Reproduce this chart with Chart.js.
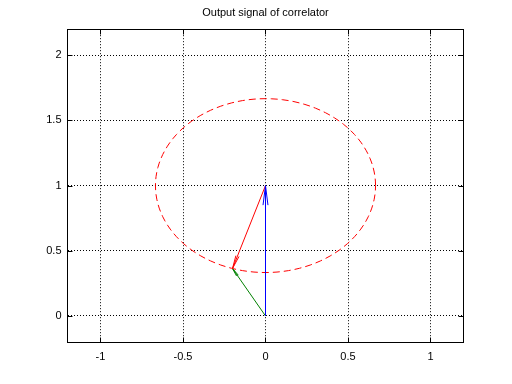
<!DOCTYPE html>
<html>
<head>
<meta charset="utf-8">
<script src="https://cdn.jsdelivr.net/npm/chart.js@4/dist/chart.umd.min.js"></script>
<style>
  html, body { margin: 0; padding: 0; background: #fff; }
  #wrap { width: 512px; height: 384px; }
</style>
</head>
<body>
<div id="wrap"><canvas id="c" width="512" height="384"></canvas></div>
<script>
// chart data
const titleText = "Output signal of correlator";
const xRange = [-1.2, 1.2];
const yRange = [-0.2, 2.2];
const xTicks = [-1, -0.5, 0, 0.5, 1];
const yTicks = [0, 0.5, 1, 1.5, 2];

// dashed circle: centre + radius
const circleCenter = [0, 1];
const circleRadius = 0.667;
const circleSteps = 120;

// three quiver arrows
const arrowColors = ["#0000ff", "#ff0000", "#008000"];
const arrowFromX = [0, 0, 0];
const arrowFromY = [0, 1, 0];
const arrowToX = [0, -0.2, -0.2];
const arrowToY = [1, 0.364, 0.364];
const headAlpha = 0.15;
const headBeta = 0.1;

const FONT = "'Liberation Sans', Arial, Helvetica, sans-serif";

function circlePoints() {
  const pts = [];
  for (let i = 0; i <= circleSteps; i++) {
    const t = (i / circleSteps) * 2 * Math.PI;
    pts.push({ x: circleCenter[0] + circleRadius * Math.cos(t), y: circleCenter[1] + circleRadius * Math.sin(t) });
  }
  return pts;
}

// same head shape as matlab quiver
function headPoints(i) {
  const x0 = arrowFromX[i], y0 = arrowFromY[i];
  const u = arrowToX[i] - x0, v = arrowToY[i] - y0;
  const tx = x0 + u, ty = y0 + v;
  return [
    { x: tx - headAlpha * (u + headBeta * v), y: ty - headAlpha * (v - headBeta * u) },
    { x: tx, y: ty },
    { x: tx - headAlpha * (u - headBeta * v), y: ty - headAlpha * (v + headBeta * u) },
  ];
}

const lineDefaults = { showLine: true, pointRadius: 0, borderWidth: 1, tension: 0, fill: false };

const datasets = [];
arrowColors.forEach((col, i) => {
  datasets.push(Object.assign({}, lineDefaults, {
    data: [{ x: arrowFromX[i], y: arrowFromY[i] }, { x: arrowToX[i], y: arrowToY[i] }],
    borderColor: col,
  }));
  datasets.push(Object.assign({}, lineDefaults, { data: headPoints(i), borderColor: col }));
});
datasets.push(Object.assign({}, lineDefaults, {
  data: circlePoints(),
  borderColor: "#ff0000",
  borderDash: [7, 4],
}));

// axes box + inward ticks, matlab style
const boxPlugin = {
  id: "box",
  afterDatasetsDraw(chart) {
    const { ctx, chartArea: a, scales } = chart;
    const L = Math.floor(a.left) + 0.5, R = Math.floor(a.right) + 0.5;
    const T = Math.round(a.top) + 0.5, B = Math.round(a.bottom) + 0.5;
    const len = 5;
    ctx.save();
    ctx.setLineDash([]);
    ctx.strokeStyle = "#000";
    ctx.lineWidth = 1;
    ctx.strokeRect(L, T, R - L, B - T);
    ctx.beginPath();
    xTicks.forEach((v) => {
      const px = Math.floor(scales.x.getPixelForValue(v)) + 0.5;
      ctx.moveTo(px, B); ctx.lineTo(px, B - len);
      ctx.moveTo(px, T); ctx.lineTo(px, T + len);
    });
    yTicks.forEach((v) => {
      const py = Math.round(scales.y.getPixelForValue(v)) + 0.5;
      ctx.moveTo(L, py); ctx.lineTo(L + len, py);
      ctx.moveTo(R, py); ctx.lineTo(R - len, py);
    });
    ctx.stroke();
    ctx.restore();
  },
};

const gridOpts = { color: "#000", lineWidth: 1, drawTicks: false };
const borderOpts = { display: false, dash: [1, 2] };
const tickFont = { family: FONT, size: 11 };

new Chart(document.getElementById("c"), {
  type: "scatter",
  data: { datasets },
  options: {
    responsive: false,
    animation: false,
    devicePixelRatio: 1,
    layout: { padding: { left: 0.5, right: 48.5, top: 0, bottom: 0 } },
    plugins: {
      legend: { display: false },
      tooltip: { enabled: false },
      title: {
        display: true,
        fullSize: false,
        text: titleText,
        color: "#000",
        font: { family: FONT, size: 11, weight: "normal" },
        padding: { top: 6, bottom: 10 },
      },
    },
    scales: {
      x: {
        type: "linear",
        min: xRange[0],
        max: xRange[1],
        grid: gridOpts,
        border: borderOpts,
        ticks: { color: "#000", font: tickFont, padding: 8, maxRotation: 0, callback: (v) => String(v) },
        afterBuildTicks: (s) => { s.ticks = xTicks.map((v) => ({ value: v })); },
        afterFit: (s) => { s.height = 42; },
      },
      y: {
        type: "linear",
        min: yRange[0],
        max: yRange[1],
        grid: gridOpts,
        border: borderOpts,
        ticks: { color: "#000", font: tickFont, padding: 6, callback: (v) => String(v) },
        afterBuildTicks: (s) => { s.ticks = yTicks.map((v) => ({ value: v })); },
        afterFit: (s) => { s.width = 67; },
      },
    },
  },
  plugins: [boxPlugin],
});
</script>
</body>
</html>
